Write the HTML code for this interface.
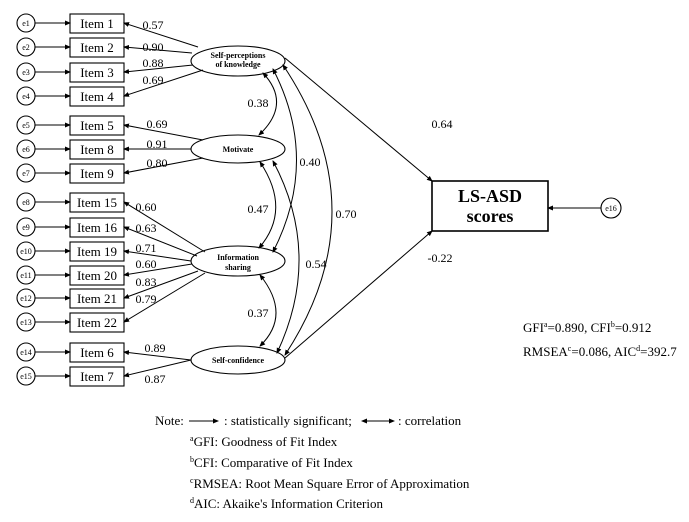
<!DOCTYPE html>
<html><head><style>body{margin:0;background:#fff}svg{display:block}text{font-family:"Liberation Serif",serif;fill:#000}</style></head><body>
<svg width="689" height="522" viewBox="0 0 689 522" xmlns="http://www.w3.org/2000/svg">
<defs><marker id="a" markerWidth="6" markerHeight="6" refX="5" refY="3" orient="auto" markerUnits="userSpaceOnUse"><path d="M0,0.5 L6,3 L0,5.5z" fill="#000"/></marker>
<marker id="s" markerWidth="6" markerHeight="6" refX="1" refY="3" orient="auto" markerUnits="userSpaceOnUse"><path d="M6,0.5 L0,3 L6,5.5z" fill="#000"/></marker></defs>
<g stroke="#000" stroke-width="1.1" fill="none">
<circle cx="26" cy="23" r="9"/><circle cx="26" cy="47" r="9"/><circle cx="26" cy="72" r="9"/><circle cx="26" cy="96" r="9"/>
<circle cx="26" cy="125" r="9"/><circle cx="26" cy="149" r="9"/><circle cx="26" cy="173" r="9"/>
<circle cx="26" cy="202" r="9"/><circle cx="26" cy="227" r="9"/><circle cx="26" cy="251" r="9"/><circle cx="26" cy="275" r="9"/><circle cx="26" cy="298" r="9"/><circle cx="26" cy="322" r="9"/>
<circle cx="26" cy="352" r="9"/><circle cx="26" cy="376" r="9"/>
<rect x="70" y="14" width="54" height="19"/><rect x="70" y="38" width="54" height="19"/><rect x="70" y="63" width="54" height="19"/><rect x="70" y="87" width="54" height="19"/>
<rect x="70" y="116" width="54" height="19"/><rect x="70" y="140" width="54" height="19"/><rect x="70" y="164" width="54" height="19"/>
<rect x="70" y="193" width="54" height="19"/><rect x="70" y="218" width="54" height="19"/><rect x="70" y="242" width="54" height="19"/><rect x="70" y="266" width="54" height="19"/><rect x="70" y="289" width="54" height="19"/><rect x="70" y="313" width="54" height="19"/>
<rect x="70" y="343" width="54" height="19"/><rect x="70" y="367" width="54" height="19"/>
<ellipse cx="238" cy="61" rx="47" ry="15"/><ellipse cx="238" cy="149" rx="47" ry="14"/><ellipse cx="238" cy="261" rx="47" ry="15"/><ellipse cx="238" cy="360" rx="47" ry="14"/>
<rect x="432" y="181" width="116" height="50" stroke-width="1.6"/>
<circle cx="611" cy="208" r="10"/>
</g>
<g stroke="#000" stroke-width="1" fill="none" marker-end="url(#a)">
<path d="M35,23H70"/><path d="M35,47H70"/><path d="M35,72H70"/><path d="M35,96H70"/>
<path d="M35,125H70"/><path d="M35,149H70"/><path d="M35,173H70"/>
<path d="M35,202H70"/><path d="M35,227H70"/><path d="M35,251H70"/><path d="M35,275H70"/><path d="M35,298H70"/><path d="M35,322H70"/>
<path d="M35,352H70"/><path d="M35,376H70"/>
<path d="M198,47L124,23"/><path d="M192,53L124,47"/><path d="M193,65L124,72"/><path d="M203,70L124,96"/>
<path d="M203,140L124,125"/><path d="M191,149L124,149"/><path d="M203,158L124,173"/>
<path d="M205,252L124,202"/><path d="M197,256L124,227"/><path d="M191,261L124,251"/><path d="M192,264L124,275"/><path d="M198,271L124,298"/><path d="M205,273L124,322"/>
<path d="M191,360L124,352"/><path d="M191,360L124,376"/>
<path d="M285,58L432,181"/><path d="M285,358L432,231"/>
<path d="M601,208H548"/>
</g>
<g stroke="#000" stroke-width="1" fill="none" marker-start="url(#s)" marker-end="url(#a)">
<path d="M263,73Q292,104 259,135"/>
<path d="M260,162Q292,210 259,248"/>
<path d="M260,275Q292,315 260,346"/>
<path d="M273,69Q320,160 273,252"/>
<path d="M273,161Q323,255 277,353"/>
<path d="M283,65Q380,210 285,355"/>
</g>
<g font-size="13" text-anchor="middle">
<text x="97" y="28">Item 1</text><text x="97" y="52">Item 2</text><text x="97" y="77">Item 3</text><text x="97" y="101">Item 4</text>
<text x="97" y="130">Item 5</text><text x="97" y="154">Item 8</text><text x="97" y="178">Item 9</text>
<text x="97" y="207">Item 15</text><text x="97" y="232">Item 16</text><text x="97" y="256">Item 19</text><text x="97" y="280">Item 20</text><text x="97" y="303">Item 21</text><text x="97" y="327">Item 22</text>
<text x="97" y="357">Item 6</text><text x="97" y="381">Item 7</text>
</g>
<g font-size="8" text-anchor="middle">
<text x="26" y="26">e1</text><text x="26" y="50">e2</text><text x="26" y="75">e3</text><text x="26" y="99">e4</text>
<text x="26" y="128">e5</text><text x="26" y="152">e6</text><text x="26" y="176">e7</text>
<text x="26" y="205">e8</text><text x="26" y="230">e9</text><text x="26" y="254">e10</text><text x="26" y="278">e11</text><text x="26" y="301">e12</text><text x="26" y="325">e13</text>
<text x="26" y="355">e14</text><text x="26" y="379">e15</text><text x="611" y="211">e16</text>
</g>
<g font-size="8" font-weight="bold" text-anchor="middle">
<text x="238" y="58">Self-perceptions</text><text x="238" y="67">of knowledge</text>
<text x="238" y="152">Motivate</text>
<text x="238" y="260">Information</text><text x="238" y="270">sharing</text>
<text x="238" y="363">Self-confidence</text>
</g>
<g font-size="18" font-weight="bold" text-anchor="middle"><text x="490" y="202">LS-ASD</text><text x="490" y="222">scores</text></g>
<g font-size="12" text-anchor="middle">
<text x="153" y="29">0.57</text><text x="153" y="51">0.90</text><text x="153" y="67">0.88</text><text x="153" y="84">0.69</text>
<text x="157" y="128">0.69</text><text x="157" y="148">0.91</text><text x="157" y="167">0.80</text>
<text x="146" y="211">0.60</text><text x="146" y="232">0.63</text><text x="146" y="252">0.71</text><text x="146" y="268">0.60</text><text x="146" y="286">0.83</text><text x="146" y="303">0.79</text>
<text x="155" y="352">0.89</text><text x="155" y="383">0.87</text>
<text x="258" y="107">0.38</text><text x="258" y="213">0.47</text><text x="258" y="317">0.37</text>
<text x="310" y="166">0.40</text><text x="316" y="268">0.54</text><text x="346" y="218">0.70</text>
<text x="442" y="128">0.64</text><text x="440" y="262">-0.22</text>
</g>
<g font-size="13">
<text x="523" y="332">GFI<tspan font-size="8" dy="-5">a</tspan><tspan dy="5">=0.890, CFI</tspan><tspan font-size="8" dy="-5">b</tspan><tspan dy="5">=0.912</tspan></text>
<text x="523" y="356">RMSEA<tspan font-size="8" dy="-5">c</tspan><tspan dy="5">=0.086, AIC</tspan><tspan font-size="8" dy="-5">d</tspan><tspan dy="5">=392.7</tspan></text>
<text x="155" y="425">Note:</text>
<text x="224" y="425">: statistically significant;</text>
<text x="398" y="425">: correlation</text>
<text x="190" y="446"><tspan font-size="8" dy="-5">a</tspan><tspan dy="5">GFI: Goodness of Fit Index</tspan></text>
<text x="190" y="467"><tspan font-size="8" dy="-5">b</tspan><tspan dy="5">CFI: Comparative of Fit Index</tspan></text>
<text x="190" y="488"><tspan font-size="8" dy="-5">c</tspan><tspan dy="5">RMSEA: Root Mean Square Error of Approximation</tspan></text>
<text x="190" y="508"><tspan font-size="8" dy="-5">d</tspan><tspan dy="5">AIC: Akaike's Information Criterion</tspan></text>
</g>
<g stroke="#000" stroke-width="1" fill="none">
<path d="M189,421H218" marker-end="url(#a)"/>
<path d="M362,421H394" marker-start="url(#s)" marker-end="url(#a)"/>
</g>
</svg>
</body></html>
